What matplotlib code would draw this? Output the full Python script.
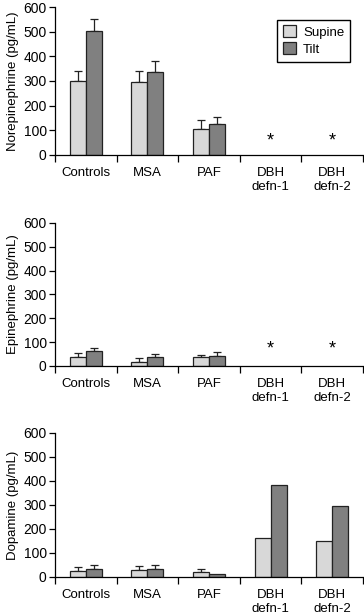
import matplotlib.pyplot as plt
import numpy as np

plt.rcParams['font.family'] = ['Liberation Sans', 'DejaVu Sans']

groups = ["Controls", "MSA", "PAF", "DBH\ndefn-1", "DBH\ndefn-2"]

# norepinephrine (pg/mL)
ne_supine = [302, 297, 105, 0, 0]
ne_supine_err = [40, 45, 35, 0, 0]
ne_tilt = [503, 335, 127, 0, 0]
ne_tilt_err = [50, 48, 25, 0, 0]

# epinephrine (pg/mL)
epi_supine = [38, 18, 37, 0, 0]
epi_supine_err = [17, 15, 11, 0, 0]
epi_tilt = [62, 38, 40, 0, 0]
epi_tilt_err = [13, 14, 17, 0, 0]

# dopamine (pg/mL)
da_supine = [27, 30, 22, 162, 148]
da_supine_err = [15, 17, 11, 0, 0]
da_tilt = [35, 35, 12, 385, 296]
da_tilt_err = [13, 13, 0, 0, 0]

# groups marked with * (undetectable)
ne_star = [0, 0, 0, 1, 1]
epi_star = [0, 0, 0, 1, 1]
star_level = [57, 70]

panels = [
    ("Norepinephrine (pg/mL)", ne_supine, ne_supine_err, ne_tilt, ne_tilt_err, ne_star, star_level[0]),
    ("Epinephrine (pg/mL)", epi_supine, epi_supine_err, epi_tilt, epi_tilt_err, epi_star, star_level[1]),
    ("Dopamine (pg/mL)", da_supine, da_supine_err, da_tilt, da_tilt_err, None, 0),
]

boxes = [(0.9886, 0.748), (0.6374, 0.4049), (0.296, 0.0618)]
light = "#d8d8d8"
dark = "#808080"
edge = "#222222"

fig = plt.figure(figsize=(3.64, 6.15), dpi=100)
x = np.arange(len(groups))
w = 0.26

for (label, sup, sup_e, tilt, tilt_e, star, lvl), (top, bot) in zip(panels, boxes):
    ax = fig.add_axes([0.151, bot, 0.997 - 0.151, top - bot])
    for off, vals, errs, col, name in [(-w / 2, sup, sup_e, light, "Supine"),
                                       (w / 2, tilt, tilt_e, dark, "Tilt")]:
        vals = np.array(vals, dtype=float)
        keep = vals > 0
        ax.bar(x[keep] + off, vals[keep], w, color=col, edgecolor=edge, linewidth=0.9,
               label=name, zorder=2)
        for xi, v, e in zip(x + off, vals, errs):
            if e > 0:
                ax.errorbar(xi, v, yerr=[[0], [e]], color=edge, capsize=3, elinewidth=0.9,
                            capthick=0.9, zorder=1)
    if star is not None:
        for xi, s in zip(x, star):
            if s:
                ax.text(xi, lvl, "*", ha="center", va="center", fontsize=13)
    ax.set_xlim(-0.5, len(groups) - 0.5)
    ax.set_ylim(0, 600)
    ax.set_yticks(range(0, 601, 100))
    ax.set_xticks(np.arange(-0.5, len(groups), 1.0))
    ax.set_xticklabels([])
    ax.set_xticks(x, minor=True)
    ax.set_xticklabels(groups, minor=True, fontsize=9.5, linespacing=1.12)
    ax.tick_params(axis="x", which="minor", length=0, pad=9)
    ax.tick_params(axis="x", which="major", length=5, width=0.9)
    ax.tick_params(axis="y", length=4, width=0.9, labelsize=10, pad=2)
    ax.spines["top"].set_visible(False)
    ax.spines["right"].set_visible(False)
    ax.spines["left"].set_linewidth(0.9)
    ax.spines["bottom"].set_linewidth(0.9)
    ax.set_ylabel(label, fontsize=9.5, labelpad=3)
    if label.startswith("Nore"):
        ax.legend(loc="upper right", bbox_to_anchor=(0.98, 0.96), fancybox=False,
                  edgecolor="black", framealpha=1, fontsize=9.5, handlelength=1.0,
                  handleheight=1.0, handletextpad=0.5, borderpad=0.45, labelspacing=0.25)

fig.savefig("out.png", dpi=100)
